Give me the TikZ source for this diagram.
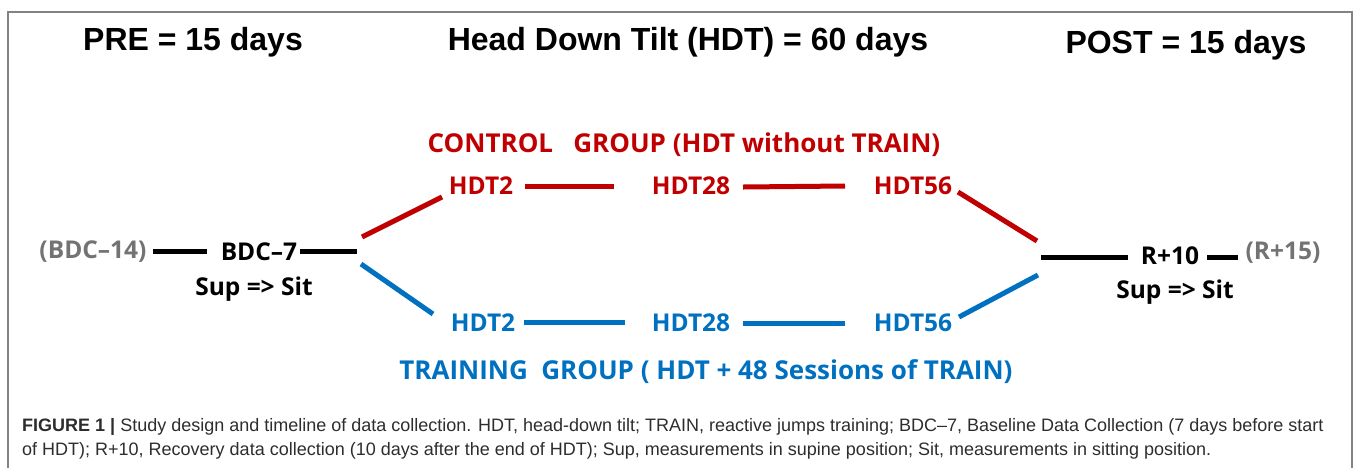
\documentclass[tikz,border=0pt]{standalone}
\usepackage{fontspec}
\setmainfont{Liberation Sans}
\newfontfamily\lucida{Open Sans}
\definecolor{ctrlred}{RGB}{192,0,0}
\definecolor{trainblue}{RGB}{0,112,192}
\definecolor{greytxt}{RGB}{115,115,115}
\definecolor{captxt}{RGB}{45,45,45}
\definecolor{framegray}{RGB}{130,130,130}
\tikzset{
  title/.style={font=\fontsize{32}{36}\selectfont\bfseries, inner sep=0pt},
  lab/.style={font=\lucida\fontsize{24.5}{28}\selectfont\bfseries, inner sep=0pt},
  grouplab/.style={font=\lucida\fontsize{26}{30}\selectfont\bfseries, inner sep=0pt},
  blk/.style={line width=5pt, black},
  redl/.style={line width=5pt, ctrlred},
  bluel/.style={line width=5pt, trainblue},
  captext/.style={font=\fontsize{18}{21}\selectfont, text=captxt, inner sep=0pt, anchor=west}
}
\begin{document}
\begin{tikzpicture}[x=1pt,y=-1pt]
\useasboundingbox (0,0) rectangle (1357,467);
% frame
\draw[framegray, line width=1.5pt] (8,470) -- (8,12) -- (1352,12) -- (1352,470);
% titles
\node[title] (pre) at (193,42) {PRE = 15 days};
\node[title] (hdt) at (688,42) {Head Down Tilt (HDT) = 60 days};
\node[title] (post) at (1186,45) {POST = 15 days};
% group labels
\node[grouplab, text=ctrlred] (ctrl) at (684,145) {CONTROL\ \ \ GROUP (HDT without TRAIN)};
\node[grouplab, text=trainblue] (train) at (706,372) {TRAINING\ \ GROUP ( HDT + 48 Sessions of TRAIN)};
% timeline labels
\node[lab, text=greytxt] (bdc14) at (93,252) {(BDC\textendash14)};
\node[lab] (bdc7) at (259,252) {BDC\textendash7};
\node[lab] (sup1) at (254,289) {Sup => Sit};
\node[lab, text=ctrlred] (hdt2r) at (481,186) {HDT2};
\node[lab, text=ctrlred] (hdt28r) at (691,186) {HDT28};
\node[lab, text=ctrlred] (hdt56r) at (913,186) {HDT56};
\node[lab, text=trainblue] (hdt2b) at (483,323) {HDT2};
\node[lab, text=trainblue] (hdt28b) at (691,323) {HDT28};
\node[lab, text=trainblue] (hdt56b) at (913,323) {HDT56};
\node[lab] (r10) at (1170,256) {R+10};
\node[lab, text=greytxt] (r15) at (1283,253) {(R+15)};
\node[lab] (sup2) at (1175,292) {Sup => Sit};
% line end coordinates
\coordinate (a1) at (153,251); \coordinate (a2) at (207,251);
\coordinate (b1) at (300,251); \coordinate (b2) at (357,251);
\coordinate (c1) at (1041,257); \coordinate (c2) at (1128,257);
\coordinate (d1) at (1207,257); \coordinate (d2) at (1238,257);
\coordinate (r1) at (362,237); \coordinate (r2) at (442,197);
\coordinate (r3) at (525,186); \coordinate (r4) at (614,186);
\coordinate (r5) at (743,187); \coordinate (r6) at (845,186);
\coordinate (r7) at (958,192); \coordinate (r8) at (1037,241);
\coordinate (u1) at (361,264); \coordinate (u2) at (433,314);
\coordinate (u3) at (524,322); \coordinate (u4) at (625,322);
\coordinate (u5) at (743,323); \coordinate (u6) at (845,323);
\coordinate (u7) at (959,317); \coordinate (u8) at (1038,275);
% connectors
\draw[blk] (a1) -- (a2);
\draw[blk] (b1) -- (b2);
\draw[blk] (c1) -- (c2);
\draw[blk] (d1) -- (d2);
\draw[redl] (r1) -- (r2);
\draw[redl] (r3) -- (r4);
\draw[redl] (r5) -- (r6);
\draw[redl] (r7) -- (r8);
\draw[bluel] (u1) -- (u2);
\draw[bluel] (u3) -- (u4);
\draw[bluel] (u5) -- (u6);
\draw[bluel] (u7) -- (u8);
% caption
\node[captext] (cap1) at (22,427) {\textbf{FIGURE 1 |} Study design and timeline of data collection. HDT, head-down tilt; TRAIN, reactive jumps training; BDC\textendash7, Baseline Data Collection (7 days before start};
\node[captext] (cap2) at (22,451) {of HDT); R+10, Recovery data collection (10 days after the end of HDT); Sup, measurements in supine position; Sit, measurements in sitting position.};
\end{tikzpicture}
\end{document}
